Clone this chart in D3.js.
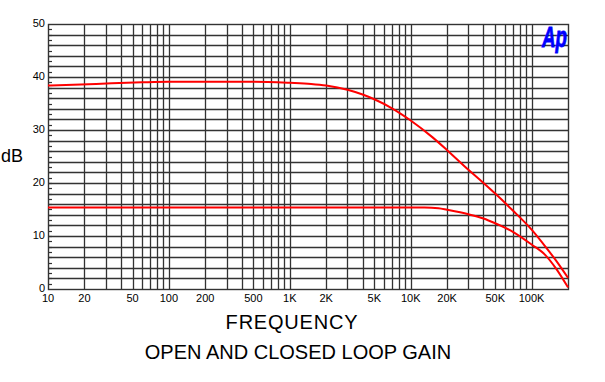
<!DOCTYPE html>
<html>
<head>
<meta charset="utf-8">
<script src="https://cdn.jsdelivr.net/npm/d3@7"></script>
<style>
  html, body { margin: 0; padding: 0; background: #fff; }
  svg { display: block; font-family: 'Liberation Sans', Arial, sans-serif; }
</style>
</head>
<body>
<div id="chart"></div>
<script>
const freqTicks = [10, 20, 50, 100, 200, 500, 1000, 2000, 5000, 10000, 20000, 50000, 100000]
const freqLabels = ['10', '20', '50', '100', '200', '500', '1K', '2K', '5K', '10K', '20K', '50K', '100K']
const dbTicks = [0, 10, 20, 30, 40, 50]

// open loop gain (upper curve)
const openFreq = [10, 25, 60, 100, 500, 1000, 1500, 2000, 3000, 4000, 5000, 7000, 10000, 15000, 20000, 30000, 40000, 50000, 70000, 100000, 130000, 160000, 200000]
const openGain = [38.4, 38.7, 39.0, 39.1, 39.1, 38.9, 38.7, 38.4, 37.6, 36.7, 35.8, 34.1, 31.8, 28.7, 26.2, 22.5, 20.0, 18.0, 14.8, 11.2, 8.0, 5.3, 2.1]

// closed loop gain (lower curve)
const closedFreq = [10, 1000, 10000, 13000, 17000, 20000, 30000, 40000, 50000, 70000, 100000, 130000, 160000, 200000]
const closedGain = [15.4, 15.4, 15.4, 15.4, 15.25, 14.95, 14.1, 13.3, 12.4, 10.8, 8.4, 6.4, 3.8, 0.3]

const width = 605, height = 382
const plotL = 48, plotR = 568, plotT = 24, plotB = 289

const svg = d3.select('#chart').append('svg')
  .attr('width', width)
  .attr('height', height)

const x = d3.scaleLog().domain([10, 200000]).range([plotL, plotR])
const y = d3.scaleLinear().domain([0, 50]).range([plotB, plotT])

// vertical grid: every 1..9 step of each decade
const vLines = []
for (let d = 10; d < 200000; d *= 10) {
  for (let k = 1; k < 10; k++) {
    const f = d * k
    if (f > 10 && f < 200000) vLines.push(f)
  }
}
const gridColor = '#333'

svg.append('g').selectAll('line')
  .data(vLines)
  .join('line')
  .attr('x1', d => Math.round(x(d)) + 0.5)
  .attr('x2', d => Math.round(x(d)) + 0.5)
  .attr('y1', plotT)
  .attr('y2', plotB)
  .attr('stroke', gridColor)
  .attr('stroke-width', 1.3)

// horizontal grid every 2 dB
const hLines = d3.range(2, 50, 2)
svg.append('g').selectAll('line')
  .data(hLines)
  .join('line')
  .attr('x1', plotL)
  .attr('x2', plotR)
  .attr('y1', d => Math.round(y(d)) + 0.5)
  .attr('y2', d => Math.round(y(d)) + 0.5)
  .attr('stroke', gridColor)
  .attr('stroke-width', 1.3)

// small 1 dB ticks on the left edge
svg.append('g').selectAll('line')
  .data(d3.range(1, 50, 1))
  .join('line')
  .attr('x1', plotL)
  .attr('x2', plotL + 4)
  .attr('y1', d => Math.round(y(d)) + 0.5)
  .attr('y2', d => Math.round(y(d)) + 0.5)
  .attr('stroke', gridColor)
  .attr('stroke-width', 1.2)

// frame
svg.append('rect')
  .attr('x', plotL + 0.5)
  .attr('y', plotT + 0.5)
  .attr('width', plotR - plotL)
  .attr('height', plotB - plotT)
  .attr('fill', 'none')
  .attr('stroke', gridColor)
  .attr('stroke-width', 1.4)

// curves
const line = d3.line()
  .x(d => x(d[0]))
  .y(d => y(d[1]))
  .curve(d3.curveMonotoneX)

const series = [
  d3.zip(openFreq, openGain),
  d3.zip(closedFreq, closedGain)
]
svg.append('g').selectAll('path')
  .data(series)
  .join('path')
  .attr('d', line)
  .attr('fill', 'none')
  .attr('stroke', '#ff0000')
  .attr('stroke-width', 2)

// tick labels
svg.append('g').selectAll('text')
  .data(dbTicks)
  .join('text')
  .attr('x', plotL - 3)
  .attr('y', d => y(d))
  .attr('dy', '0.25em')
  .attr('text-anchor', 'end')
  .attr('font-size', 11)
  .text(d => d)

svg.append('g').selectAll('text')
  .data(freqTicks)
  .join('text')
  .attr('x', d => x(d))
  .attr('y', 302)
  .attr('text-anchor', 'middle')
  .attr('font-size', 11)
  .text((d, i) => freqLabels[i])

// axis titles
svg.append('text')
  .attr('x', 1)
  .attr('y', 162)
  .attr('font-size', 18)
  .text('dB')

svg.append('text')
  .attr('x', 292)
  .attr('y', 329)
  .attr('text-anchor', 'middle')
  .attr('font-size', 20)
  .attr('letter-spacing', 0.8)
  .text('FREQUENCY')

svg.append('text')
  .attr('x', 298)
  .attr('y', 359)
  .attr('text-anchor', 'middle')
  .attr('font-size', 20)
  .text('OPEN AND CLOSED LOOP GAIN')

// Ap logo
svg.append('text')
  .attr('x', 542)
  .attr('y', 47)
  .attr('font-size', 29)
  .attr('font-weight', 'bold')
  .attr('font-style', 'italic')
  .attr('fill', '#0000ff')
  .attr('stroke', '#0000ff')
  .attr('stroke-width', 0.8)
  .attr('textLength', 25)
  .attr('lengthAdjust', 'spacingAndGlyphs')
  .text('Ap')
</script>
</body>
</html>
